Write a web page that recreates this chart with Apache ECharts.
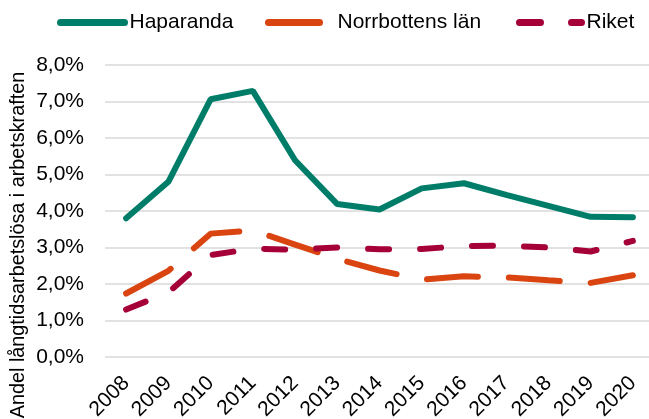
<!DOCTYPE html>
<html>
<head>
<meta charset="utf-8">
<script src="https://cdn.jsdelivr.net/npm/echarts@6/dist/echarts.min.js"></script>
<style>
  html, body { margin: 0; padding: 0; background: #fff; }
  #chart { width: 649px; height: 419px; }
</style>
</head>
<body>
<div id="chart"></div>
<script>
// år på x-axeln
var years = ['2008', '2009', '2010', '2011', '2012', '2013', '2014', '2015', '2016', '2017', '2018', '2019', '2020'];
// andel långtidsarbetslösa (%)
var haparanda = [3.80, 4.80, 7.06, 7.29, 5.39, 4.19, 4.04, 4.62, 4.76, 4.44, 4.14, 3.84, 3.83];
var norrbotten = [1.74, 2.36, 3.38, 3.47, 3.08, 2.69, 2.37, 2.12, 2.21, 2.18, 2.10, 2.03, 2.24];
var riket = [1.30, 1.77, 2.79, 2.97, 2.94, 3.00, 2.95, 2.96, 3.04, 3.05, 3.00, 2.89, 3.18];
var seriesNames = ['Haparanda', 'Norrbottens län', 'Riket'];

var font = '"Liberation Sans", Arial, sans-serif';
var myChart = echarts.init(document.getElementById('chart'));

// en legend per serie, så att linjerna kan ha olika längd
function legendAt(name, left, width) {
    return {
        data: [name],
        left: left,
        top: 12,
        padding: 0,
        itemWidth: width,
        itemHeight: 20,
        itemGap: 0,
        itemStyle: { opacity: 0 },
        lineStyle: { width: 7, cap: 'round' },
        textStyle: { fontFamily: font, fontSize: 21, color: '#000' }
    };
}

var option = {
    animation: false,
    backgroundColor: '#fff',
    legend: [
        legendAt(seriesNames[0], 57, 64),
        legendAt(seriesNames[1], 265, 64),
        legendAt(seriesNames[2], 516, 62)
    ],
    grid: { left: 105, right: -5, top: 65, bottom: 62, outerBoundsMode: 'none', containLabel: false },
    xAxis: {
        type: 'category',
        data: years,
        boundaryGap: true,
        axisLine: { show: false },
        axisTick: { show: false },
        axisLabel: {
            rotate: 45,
            margin: 23,
            interval: 0,
            fontFamily: font,
            fontSize: 21,
            color: '#000'
        }
    },
    yAxis: {
        type: 'value',
        min: 0,
        max: 8,
        interval: 1,
        axisLine: { show: false },
        axisTick: { show: false },
        splitLine: { lineStyle: { color: '#d9d9d9', width: 1.5 } },
        axisLabel: {
            margin: 21,
            fontFamily: font,
            fontSize: 21,
            color: '#000',
            formatter: function (v) { return v.toFixed(1).replace('.', ',') + '%'; }
        }
    },
    graphic: [{
        type: 'text',
        x: 19,
        y: 245,
        rotation: Math.PI / 2,
        style: {
            text: 'Andel långtidsarbetslösa i arbetskraften',
            fontFamily: font,
            fontSize: 19.8,
            fill: '#000',
            align: 'center',
            verticalAlign: 'middle'
        }
    }],
    series: [
        {
            name: seriesNames[0],
            type: 'line',
            data: haparanda,
            symbol: 'none',
            color: '#007d69',
            lineStyle: { width: 6, color: '#007d69', cap: 'round' },
            z: 3
        },
        {
            name: seriesNames[1],
            type: 'line',
            data: norrbotten,
            symbol: 'none',
            color: '#d94410',
            lineStyle: { width: 6, color: '#d94410', type: [51, 31], cap: 'round' },
            z: 2
        },
        {
            name: seriesNames[2],
            type: 'line',
            data: riket,
            symbol: 'none',
            color: '#a60039',
            lineStyle: { width: 6, color: '#a60039', type: [21, 31], cap: 'round' },
            z: 2
        }
    ]
};
myChart.setOption(option);
</script>
</body>
</html>
